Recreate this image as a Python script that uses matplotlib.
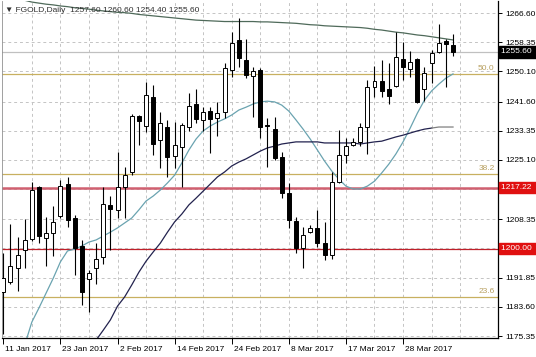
import numpy as np
import matplotlib
matplotlib.use("Agg")
import matplotlib.pyplot as plt
import matplotlib.transforms as mtransforms

plt.rcParams['font.family'] = ['Liberation Sans', 'DejaVu Sans']

# daily candles
opens = [1187.8, 1190.6, 1194.6, 1199.6, 1202.8, 1217.4, 1203.0, 1204.4, 1209.3, 1218.3,
         1208.7, 1200.8, 1191.5, 1194.6, 1197.7, 1212.4, 1211.0, 1217.4, 1221.7, 1237.5,
         1234.7, 1242.9, 1230.7, 1234.4, 1226.2, 1228.7, 1234.4, 1240.9, 1236.4, 1238.9,
         1237.0, 1238.6, 1250.5, 1259.0, 1253.3, 1248.8, 1250.5, 1235.0, 1233.8, 1225.9,
         1215.8, 1207.8, 1200.2, 1204.7, 1205.9, 1201.6, 1198.2, 1218.9, 1226.5, 1229.3,
         1230.2, 1234.4, 1245.7, 1247.4, 1245.1, 1246.0, 1253.6, 1250.8, 1253.6, 1245.1,
         1252.5, 1255.6, 1258.7, 1257.6]
highs = [1198.8, 1207.0, 1203.3, 1208.4, 1218.9, 1217.8, 1209.0, 1212.1, 1219.4, 1220.3,
         1209.5, 1202.5, 1194.0, 1201.6, 1217.4, 1214.9, 1227.3, 1223.1, 1238.0, 1237.8,
         1247.1, 1246.3, 1238.6, 1236.4, 1235.8, 1235.5, 1244.0, 1245.1, 1240.0, 1240.0,
         1241.5, 1252.5, 1261.2, 1265.2, 1259.3, 1251.3, 1251.0, 1236.9, 1237.2, 1227.3,
         1218.6, 1209.0, 1206.1, 1206.7, 1211.0, 1207.6, 1221.7, 1233.5, 1231.3, 1231.3,
         1235.5, 1247.7, 1251.6, 1253.3, 1252.5, 1261.2, 1258.4, 1255.9, 1253.9, 1251.3,
         1256.1, 1263.5, 1259.3, 1260.6]
lows = [1176.0, 1190.0, 1188.1, 1194.6, 1202.2, 1201.6, 1195.1, 1198.0, 1208.7, 1206.1,
        1192.6, 1184.1, 1182.1, 1190.0, 1195.7, 1199.6, 1208.7, 1208.7, 1220.8, 1229.3,
        1233.0, 1226.5, 1222.8, 1220.3, 1222.8, 1217.4, 1233.3, 1235.5, 1233.3, 1227.0,
        1231.9, 1237.0, 1248.5, 1251.3, 1248.2, 1237.2, 1231.3, 1223.1, 1225.1, 1214.3,
        1205.9, 1198.8, 1194.6, 1204.4, 1200.5, 1196.8, 1197.1, 1218.6, 1224.2, 1229.0,
        1229.0, 1226.8, 1242.9, 1242.9, 1240.9, 1245.7, 1247.7, 1248.5, 1241.2, 1241.7,
        1246.8, 1255.3, 1245.7, 1254.4]
closes = [1191.7, 1195.1, 1198.2, 1202.5, 1216.6, 1203.6, 1204.4, 1207.6, 1217.7, 1208.1,
          1200.2, 1187.8, 1193.2, 1197.1, 1212.6, 1211.2, 1217.4, 1220.8, 1237.5, 1236.1,
          1243.4, 1229.6, 1235.5, 1225.9, 1229.3, 1235.0, 1240.3, 1236.7, 1238.6, 1236.7,
          1238.4, 1251.1, 1258.1, 1253.9, 1249.1, 1250.2, 1234.4, 1234.8, 1225.6, 1215.8,
          1208.1, 1200.2, 1203.9, 1205.9, 1201.6, 1198.2, 1218.9, 1226.5, 1229.0, 1230.2,
          1234.4, 1245.7, 1247.4, 1244.6, 1243.2, 1254.2, 1251.3, 1252.8, 1241.5, 1249.6,
          1255.3, 1258.1, 1257.8, 1255.6]

# moving averages (nan = not drawn)
ma_long = [1271.5, 1271.0, 1270.6, 1270.2, 1269.7, 1269.4, 1269.1, 1268.9, 1268.6, 1268.4,
           1268.1, 1267.9, 1267.7, 1267.4, 1267.2, 1267.0, 1266.8, 1266.7, 1266.5, 1266.2,
           1266.0, 1265.8, 1265.6, 1265.4, 1265.2, 1265.0, 1264.8, 1264.6, 1264.5, 1264.4,
           1264.3, 1264.2, 1264.2, 1264.2, 1264.2, 1264.2, 1264.1, 1264.1, 1264.0, 1263.9,
           1263.8, 1263.7, 1263.5, 1263.3, 1263.2, 1263.0, 1262.9, 1262.8, 1262.7, 1262.6,
           1262.5, 1262.3, 1262.0, 1261.8, 1261.5, 1261.2, 1261.0, 1260.7, 1260.4, 1260.2,
           1259.9, 1259.6, 1259.3, 1259.0]
ma_fast = [np.nan, np.nan, np.nan, 1172.8, 1179.3, 1183.3, 1187.5, 1191.7, 1196.3, 1199.4,
           1199.9, 1200.8, 1201.9, 1202.5, 1203.6, 1204.7, 1205.9, 1207.3, 1208.7, 1211.0,
           1213.5, 1214.9, 1216.6, 1218.6, 1220.8, 1224.2, 1227.9, 1231.0, 1233.3, 1234.7,
           1235.8, 1236.7, 1237.8, 1239.2, 1240.0, 1240.9, 1241.5, 1241.7, 1241.5, 1240.6,
           1238.9, 1236.4, 1233.8, 1231.0, 1227.9, 1224.8, 1222.0, 1219.7, 1217.7, 1216.9,
           1216.9, 1217.7, 1219.1, 1221.4, 1223.9, 1226.8, 1230.2, 1234.1, 1238.3, 1242.0,
           1244.6, 1246.5, 1248.2, 1249.4]
ma_mid = [np.nan] * 13 + [
          1174.2, 1177.0, 1179.9, 1183.8, 1186.4, 1189.8, 1193.4,
          1196.5, 1199.1, 1201.6, 1204.7, 1207.6, 1209.8, 1212.4, 1214.3, 1216.3, 1218.3,
          1220.3, 1221.7, 1223.4, 1224.5, 1225.4, 1226.5, 1227.6, 1228.5, 1229.0, 1229.6,
          1229.9, 1230.2, 1230.2, 1230.2, 1230.2, 1229.9, 1229.9, 1229.9, 1229.9, 1229.9,
          1229.6, 1229.9, 1230.2, 1230.4, 1231.0, 1231.6, 1232.1, 1232.7, 1233.3, 1233.8,
          1234.1, 1234.4, 1234.4, 1234.4]

fib_levels = [1186.4, 1221.2, 1249.4]
fib_labels = ['23.6', '38.2', '50.0']
support_levels = [1200.00, 1217.22]
last_price = 1255.60

date_labels = ['11 Jan 2017', '23 Jan 2017', '2 Feb 2017', '14 Feb 2017',
               '24 Feb 2017', '8 Mar 2017', '17 Mar 2017', '28 Mar 2017']
price_ticks = [1175.35, 1183.60, 1191.85, 1208.35, 1225.10, 1233.35,
               1241.60, 1250.10, 1258.35, 1266.60]

n = len(opens)
x = np.arange(n)
o = np.array(opens); h = np.array(highs); l = np.array(lows); c = np.array(closes)

fig = plt.figure(figsize=(5.36, 3.57), dpi=100)
ax = fig.add_axes([2 / 536, 19 / 357, 496 / 536, 337 / 357])
ax.set_xlim(-0.18, 69.3)
ax.set_ylim(1174.8, 1270.0)

# grid
for i in range(4, 65, 4):
    ax.axvline(i, color='#c4c4c4', lw=0.7, ls=(0, (3, 3)), zorder=0)
for p in price_ticks + [1200.10, 1216.85]:
    ax.axhline(p, color='#c4c4c4', lw=0.7, ls=(0, (3, 3)), zorder=0)

# levels
ax.axhline(last_price, color='#c0c0c0', lw=0.9, zorder=1)
for lv, lab in zip(fib_levels, fib_labels):
    ax.axhline(lv, color='#c8b060', lw=0.9, zorder=1)
    ax.text(68.8, lv + 0.6, lab, color='#b8a060', fontsize=6, ha='right', va='bottom')
ax.axhline(support_levels[0], color='#c0202a', lw=0.9, zorder=1)
ax.axhline(support_levels[1], color='#d06070', lw=1.8, zorder=1)

# moving averages
ax.plot(x, ma_long, color='#4f6a5a', lw=0.9, zorder=2)
ax.plot(x, ma_fast, color='#6aa3b0', lw=0.9, zorder=2)
ax.plot(x[:61], ma_mid[:61], color='#22224e', lw=0.9, zorder=2)
ax.plot(x[60:], ma_mid[60:], color='#808080', lw=0.9, zorder=2)

# candles
ax.vlines(x, l, h, color='black', lw=0.8, zorder=3)
up = c >= o
ax.bar(x[up], c[up] - o[up], bottom=o[up], width=0.56, color='white',
       edgecolor='black', linewidth=0.7, zorder=4)
ax.bar(x[~up], o[~up] - c[~up], bottom=c[~up], width=0.56, color='black',
       edgecolor='black', linewidth=0.7, zorder=4)

# axes styling
for s in ['top']:
    ax.spines[s].set_visible(False)
ax.spines['left'].set_color('#909090')
ax.spines['left'].set_linewidth(0.6)
ax.spines['right'].set_linewidth(0.9)
ax.spines['bottom'].set_linewidth(0.9)

ax.yaxis.tick_right()
ax.set_yticks(price_ticks)
ax.set_yticklabels(['%.2f' % p for p in price_ticks])
ax.tick_params(axis='y', direction='out', length=3, width=0.7, pad=2,
               labelsize=6, colors='black')
ax.set_xticks(list(range(0, 57, 8)))
ax.set_xticklabels(date_labels)
ax.tick_params(axis='x', direction='out', length=4, width=0.7, pad=1.5,
               labelsize=6, colors='black')
shift = mtransforms.ScaledTranslation(2 / 100, 0, fig.dpi_scale_trans)
for t in ax.get_xticklabels():
    t.set_horizontalalignment('left')
    t.set_transform(t.get_transform() + shift)

# price boxes on the scale
trans = mtransforms.blended_transform_factory(ax.transAxes, ax.transData)
for val, bg in [(last_price, 'black'), (support_levels[1], '#e01010'),
                (support_levels[0], '#e01010')]:
    ax.text(1.006, val, '%.2f ' % val, transform=trans, fontsize=6, color='white',
            ha='left', va='center', clip_on=False,
            bbox=dict(boxstyle='square,pad=0.25', facecolor=bg, edgecolor=bg))

fig.text(5 / 536, 1 - 10 / 357,
         '\u25bc FGOLD,Daily  1257.60 1260.60 1254.40 1255.60',
         fontsize=6, color='#303030', va='center', ha='left')

fig.savefig('out.png', dpi=100)
